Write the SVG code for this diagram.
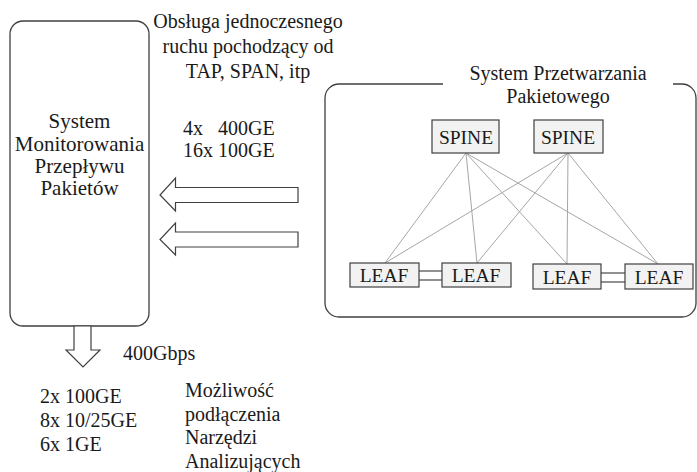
<svg xmlns="http://www.w3.org/2000/svg" width="697" height="472" viewBox="0 0 697 472">
<style>
text{font-family:"Liberation Serif","Times New Roman",serif;font-size:20px;fill:#1a1a1a}
.c{text-anchor:middle}
.big{font-size:21px}
.box{fill:#fff;stroke:#404040;stroke-width:1.3}
.sw{fill:#f2f2f2;stroke:#404040;stroke-width:1.2}
.sw-t{font-size:19.5px;text-anchor:middle}
.link{stroke:#a6a6a6;stroke-width:1;fill:none}
.dbl{stroke:#555;stroke-width:1.3;fill:none}
.arr{fill:#fff;stroke:#404040;stroke-width:1.2;stroke-linejoin:miter}
</style>
<rect width="697" height="472" fill="#fff"/>

<g id="monitor">
  <rect class="box" x="10" y="21" width="139" height="305" rx="13"/>
  <text class="c big" x="79.5" y="128">System</text>
  <text class="c big" x="79.5" y="150.5">Monitorowania</text>
  <text class="c big" x="79.5" y="173">Przepływu</text>
  <text class="c big" x="79.5" y="195">Pakietów</text>
</g>

<g id="caption-top">
  <text class="c" x="248" y="28">Obsługa jednoczesnego</text>
  <text class="c" x="248" y="53">ruchu pochodzący od</text>
  <text class="c" x="248" y="78">TAP, SPAN, itp</text>
</g>

<g id="caption-ports-in">
  <text x="183" y="135" xml:space="preserve">4x   400GE</text>
  <text x="183" y="157">16x 100GE</text>
</g>

<g id="processing-system">
  <path class="box" fill="none" d="M443 84 H339 A14 14 0 0 0 325 98 V303 A14 14 0 0 0 339 317 H682 A14 14 0 0 0 696 303 V98 A14 14 0 0 0 682 84 H673"/>
  <text class="c" x="558" y="80">System Przetwarzania</text>
  <text class="c" x="558" y="103">Pakietowego</text>
</g>

<g id="connectors">
  <line class="link" x1="466" y1="153" x2="385" y2="263"/>
  <line class="link" x1="466" y1="153" x2="477" y2="263"/>
  <line class="link" x1="466" y1="153" x2="567" y2="264"/>
  <line class="link" x1="466" y1="153" x2="658" y2="264"/>
  <line class="link" x1="568" y1="153" x2="385" y2="263"/>
  <line class="link" x1="568" y1="153" x2="477" y2="263"/>
  <line class="link" x1="568" y1="153" x2="567" y2="264"/>
  <line class="link" x1="568" y1="153" x2="658" y2="264"/>
  <line class="dbl" x1="419" y1="271" x2="442" y2="271"/>
  <line class="dbl" x1="419" y1="280" x2="442" y2="280"/>
  <line class="dbl" x1="601" y1="273" x2="625" y2="273"/>
  <line class="dbl" x1="601" y1="282" x2="625" y2="282"/>
  <polygon class="arr" points="298,187.5 175.5,187.5 175.5,178 160,195 175.5,211 175.5,202.5 298,202.5"/>
  <polygon class="arr" points="298,232 175.5,232 175.5,223 160,239.5 175.5,255 175.5,247 298,247"/>
  <polygon class="arr" points="74,326 91,326 91,350 100,350 83,367 66,350 74,350"/>
</g>

<g id="spine1">
  <rect class="sw" x="432" y="120" width="67" height="33"/>
  <text class="sw-t" x="466" y="144">SPINE</text>
</g>
<g id="spine2">
  <rect class="sw" x="534" y="120" width="69" height="33"/>
  <text class="sw-t" x="568" y="144">SPINE</text>
</g>
<g id="leaf1">
  <rect class="sw" x="350" y="263" width="69" height="24"/>
  <text class="sw-t" x="384" y="282">LEAF</text>
</g>
<g id="leaf2">
  <rect class="sw" x="442" y="263" width="69" height="24"/>
  <text class="sw-t" x="476" y="282">LEAF</text>
</g>
<g id="leaf3">
  <rect class="sw" x="533" y="264" width="68" height="25"/>
  <text class="sw-t" x="567" y="283.5">LEAF</text>
</g>
<g id="leaf4">
  <rect class="sw" x="625" y="264" width="68" height="25"/>
  <text class="sw-t" x="659" y="283.5">LEAF</text>
</g>

<g id="bandwidth">
  <text x="123" y="360">400Gbps</text>
</g>
<g id="ports-out">
  <text x="40" y="403">2x 100GE</text>
  <text x="40" y="427">8x 10/25GE</text>
  <text x="40" y="450.5">6x 1GE</text>
</g>
<g id="tools">
  <text x="185" y="397">Możliwość</text>
  <text x="185" y="420.5">podłączenia</text>
  <text x="185" y="444">Narzędzi</text>
  <text x="185" y="467.5">Analizujących</text>
</g>
</svg>
